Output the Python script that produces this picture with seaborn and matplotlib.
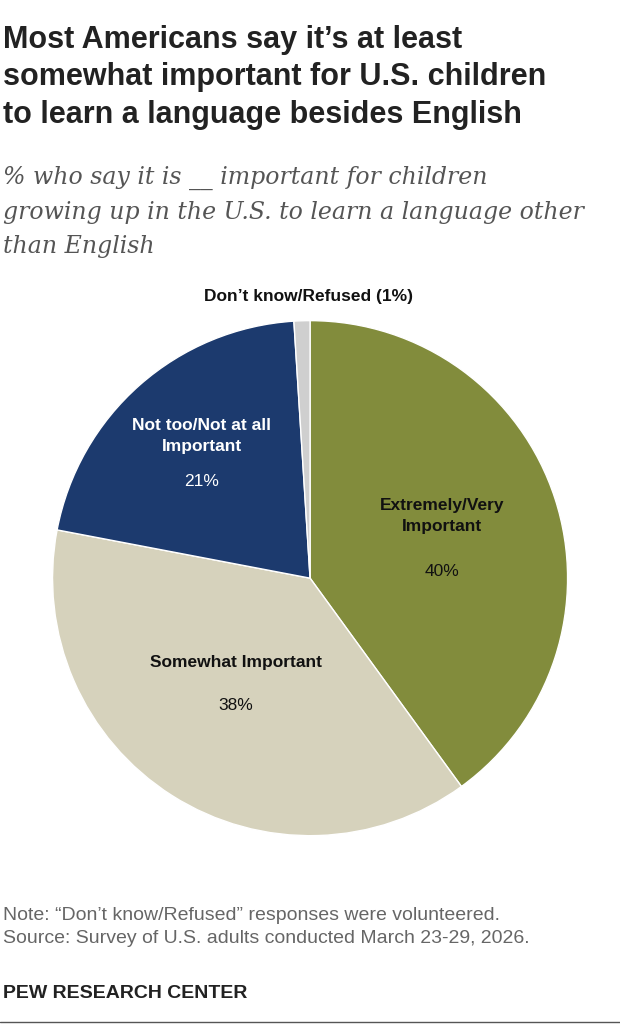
import seaborn as sns
import matplotlib.pyplot as plt

sns.set_style("white")
plt.rcParams["font.family"] = ["Liberation Sans", "DejaVu Sans"]

labels = ["Extremely/Very\nImportant", "Somewhat Important", "Not too/Not at all\nImportant", "Don\u2019t know/Refused (1%)"]
values = [40, 38, 21, 1]
colors = ["#828c3c", "#d6d2bc", "#1c3a6e", "#cfcfcf"]

fig = plt.figure(figsize=(6.2, 10.26), dpi=100)

def px(x, y):
    return x / 620, 1 - y / 1026

fig.text(*px(3, 25), "Most Americans say it\u2019s at least\nsomewhat important for U.S. children\nto learn a language besides English",
         fontsize=22, fontweight="bold", va="top", ha="left", color="#222222", linespacing=1.32)
fig.text(*px(3, 166), "% who say it is __ important for children\ngrowing up in the U.S. to learn a language other\nthan English",
         fontsize=17, style="italic", family=["DejaVu Serif"], va="top", color="#555555", linespacing=1.6)

ax = fig.add_axes([0.0806, 0.183, 0.839, 0.507])
wedges, _ = ax.pie(values, colors=colors, startangle=90, counterclock=False, radius=1,
                   wedgeprops=dict(edgecolor="white", linewidth=1))
ax.set_xlim(-1.01, 1.01)
ax.set_ylim(-1.01, 1.01)
ax.set_aspect("equal")

kw = dict(ha="center", va="center", fontsize=12.5)
fig.text(*px(442, 516), labels[0], fontweight="bold", color="#111111", linespacing=1.5, **kw)
fig.text(*px(442, 572), f"{values[0]}%", color="#111111", **kw)
fig.text(*px(236, 663), labels[1], fontweight="bold", color="#111111", **kw)
fig.text(*px(236, 706), f"{values[1]}%", color="#111111", **kw)
fig.text(*px(202, 436), labels[2], fontweight="bold", color="white", linespacing=1.5, **kw)
fig.text(*px(202, 481), f"{values[2]}%", color="white", **kw)
fig.text(*px(308, 296), labels[3], fontweight="bold", color="#111111", **kw)

fig.text(*px(3, 927), "Note: \u201cDon\u2019t know/Refused\u201d responses were volunteered.\nSource: Survey of U.S. adults conducted March 23-29, 2026.",
         fontsize=14, color="#666666", va="center", linespacing=1.45)
fig.text(*px(3, 994), "PEW RESEARCH CENTER", fontsize=14, fontweight="bold", color="#222222", va="center")
fig.add_artist(plt.Line2D([0, 1], [1 - 1022 / 1026] * 2, color="#555555", linewidth=1))

fig.savefig("out.png", dpi=100)
